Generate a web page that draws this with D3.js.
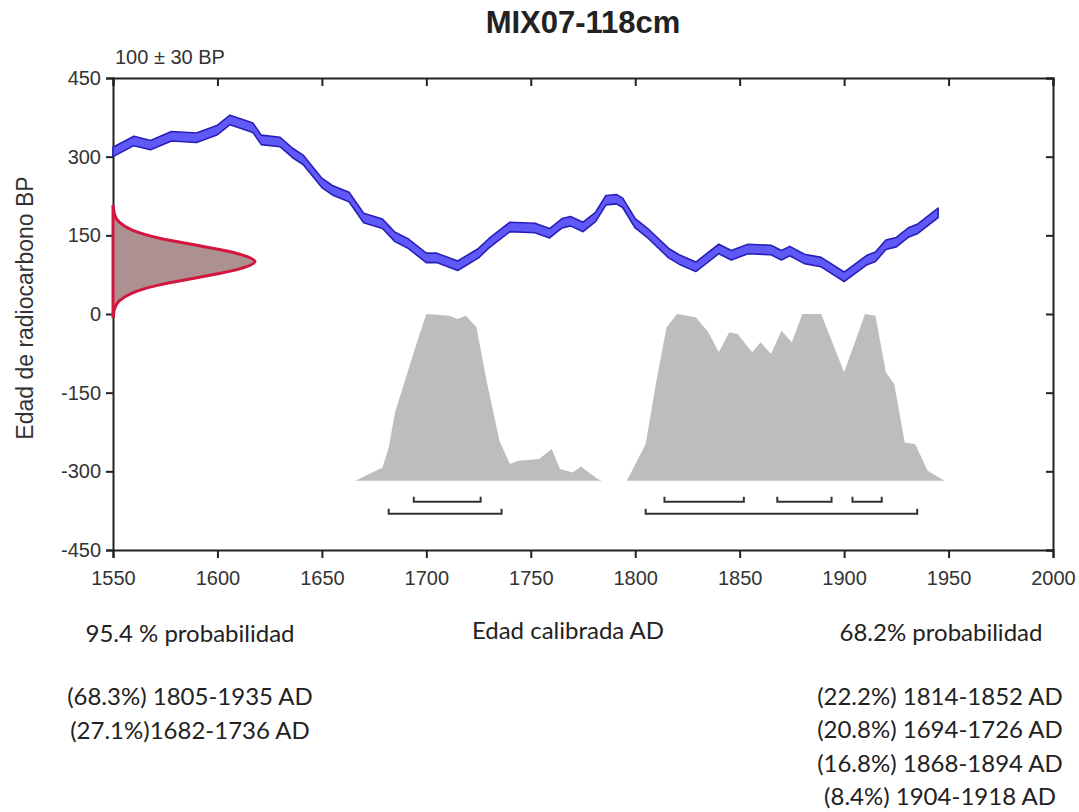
<!DOCTYPE html>
<html>
<head>
<meta charset="utf-8">
<script src="https://cdn.jsdelivr.net/npm/d3@7"></script>
<style>
  body { margin: 0; background: #fff; }
  svg { display: block; }
  .axis text { font-family: "Liberation Sans", Arial, sans-serif; font-size: 20px; fill: #333; }
  .axis path, .axis line { stroke: #222; stroke-width: 2; }
  .note { font-family: Lato, "Open Sans", sans-serif; font-size: 24px; fill: #222; }
</style>
</head>
<body>
<div id="chart"></div>
<script>
// calibration curve (IntCal)
const calYears = [1550, 1560, 1568, 1578, 1590, 1600, 1606, 1617, 1621, 1630, 1636, 1641, 1650, 1655, 1663,
  1670, 1679, 1685, 1691, 1700, 1705, 1715, 1725, 1730, 1740, 1752, 1759, 1765, 1769, 1775, 1781, 1786,
  1791, 1794, 1800, 1806, 1816, 1821, 1829, 1840, 1846, 1854, 1865, 1870, 1874, 1881, 1889, 1900, 1911,
  1915, 1920, 1925, 1931, 1935, 1945];
const calBP = [309, 330, 322, 339, 336, 351, 370, 355, 332, 328, 307, 294, 250, 236, 223,
  183, 172, 147, 135, 107, 107, 92, 116, 135, 166, 164, 154, 173, 177, 166, 185, 217,
  219, 212, 173, 154, 116, 104, 90, 124, 112, 124, 122, 112, 120, 105, 99, 71, 103,
  109, 132, 137, 156, 162, 193];
const calErr = 9;

// measured radiocarbon age 100 ± 30 BP (relative density)
const radioBP = [205, 190, 175, 160, 145, 130, 115, 100, 85, 70, 55, 40, 25, 10, -5];
const radioDensity = [0.002, 0.011, 0.044, 0.135, 0.32, 0.61, 0.88, 1, 0.88, 0.61, 0.32, 0.135, 0.044, 0.011, 0.002];

// calibrated probability (relative)
const probYears = [1666, 1679, 1682, 1685, 1690, 1696, 1700, 1711, 1715, 1719, 1724, 1729, 1735, 1740, 1744,
  1754, 1760, 1764, 1770, 1774, 1782, 1784, 1796, 1805, 1810, 1815, 1820, 1829, 1835, 1840, 1845, 1849,
  1856, 1860, 1865, 1870, 1875, 1880, 1889, 1900, 1910, 1915, 1920, 1924, 1929, 1934, 1940, 1948];
const probValues = [0, 0.08, 0.2, 0.41, 0.61, 0.85, 1, 0.99, 0.97, 0.99, 0.92, 0.59, 0.24, 0.10, 0.12,
  0.13, 0.19, 0.07, 0.05, 0.085, 0.01, 0, 0, 0.22, 0.59, 0.92, 1, 0.98, 0.89, 0.77, 0.89, 0.88,
  0.77, 0.83, 0.76, 0.90, 0.83, 1, 1, 0.65, 1, 0.99, 0.65, 0.58, 0.23, 0.22, 0.06, 0];

const ranges68 = [[1694, 1726], [1814, 1852], [1868, 1894], [1904, 1918]];
const ranges95 = [[1682, 1736], [1805, 1935]];

const xTicks = [1550, 1600, 1650, 1700, 1750, 1800, 1850, 1900, 1950, 2000];
const yTicks = [-450, -300, -150, 0, 150, 300, 450];

const title = "MIX07-118cm";
const measuredLabel = "100 \u00b1 30 BP";
const xLabel = "Edad calibrada AD";
const yLabel = "Edad de radiocarbono BP";
const head95 = "95.4 % probabilidad";
const lines95 = ["(68.3%) 1805-1935 AD", "(27.1%)1682-1736 AD"];
const head68 = "68.2% probabilidad";
const lines68 = ["(22.2%) 1814-1852 AD", "(20.8%) 1694-1726 AD", "(16.8%) 1868-1894 AD", "(8.4%) 1904-1918 AD"];

const width = 1079, height = 812;
const margin = { top: 78, right: 26, bottom: 262, left: 113 };

const svg = d3.select('#chart').append('svg')
  .attr('width', width)
  .attr('height', height);

const xScale = d3.scaleLinear().domain([1550, 2000]).range([margin.left, width - margin.right]);
const yScale = d3.scaleLinear().domain([-450, 450]).range([height - margin.bottom, margin.top]);
// calibrated probability sits on its own baseline in the lower half
const probScale = d3.scaleLinear().domain([0, 1]).range([yScale(-318), yScale(0)]);
// width of the measured-age density along the x axis
const densScale = d3.scaleLinear().domain([0, 1]).range([xScale(1550), xScale(1618)]);

// grey calibrated distribution
const probArea = d3.area()
  .x((d, i) => xScale(probYears[i]))
  .y0(probScale(0))
  .y1(d => probScale(d));
svg.append('path')
  .datum(probValues)
  .attr('fill', '#bdbdbd')
  .attr('d', probArea);

// probability range brackets
function brackets(ranges, yPos) {
  const g = svg.append('g').attr('fill', 'none').attr('stroke', '#333').attr('stroke-width', 2);
  g.selectAll('path')
    .data(ranges)
    .enter()
    .append('path')
      .attr('d', r => `M${xScale(r[0])},${yPos - 5}V${yPos}H${xScale(r[1])}V${yPos - 5}`);
}
brackets(ranges68, probScale(0) + 21);
brackets(ranges95, probScale(0) + 33);

// axes
const bottomAxis = d3.axisBottom(xScale).tickValues(xTicks).tickSize(8).tickPadding(13).tickFormat(d => String(d));
const topAxis = d3.axisTop(xScale).tickValues(xTicks).tickSize(-8).tickFormat('');
const leftAxis = d3.axisLeft(yScale).tickValues(yTicks).tickSize(7).tickPadding(5).tickFormat(d => String(d));
const rightAxis = d3.axisRight(yScale).tickValues(yTicks).tickSize(-7).tickFormat('');

svg.append('g').attr('class', 'axis')
  .attr('transform', `translate(0,${yScale(-450)})`).call(bottomAxis);
svg.append('g').attr('class', 'axis')
  .attr('transform', `translate(0,${yScale(450)})`).call(topAxis);
svg.append('g').attr('class', 'axis')
  .attr('transform', `translate(${xScale(1550)},0)`).call(leftAxis);
svg.append('g').attr('class', 'axis')
  .attr('transform', `translate(${xScale(2000)},0)`).call(rightAxis);

// calibration curve band
const calArea = d3.area()
  .x((d, i) => xScale(calYears[i]))
  .y0(d => yScale(d - calErr))
  .y1(d => yScale(d + calErr));
svg.append('path')
  .datum(calBP)
  .attr('fill', '#5f5af7')
  .attr('stroke', '#2a1fb8')
  .attr('stroke-width', 1.6)
  .attr('stroke-linejoin', 'round')
  .attr('d', calArea);

// measured radiocarbon age
const radioArea = d3.area()
  .curve(d3.curveMonotoneY)
  .y((d, i) => yScale(radioBP[i]))
  .x0(densScale(0))
  .x1(d => densScale(d));
svg.append('path')
  .datum(radioDensity)
  .attr('fill', '#ad9090')
  .attr('stroke', '#d3163f')
  .attr('stroke-width', 3)
  .attr('d', radioArea);

// texts
svg.append('text')
  .attr('x', (xScale(1550) + xScale(2000)) / 2)
  .attr('y', 33)
  .attr('text-anchor', 'middle')
  .style('font-family', '"Liberation Sans", Arial, sans-serif')
  .style('font-size', '31px')
  .style('font-weight', 'bold')
  .style('fill', '#222')
  .text(title);

svg.append('text')
  .attr('x', 115)
  .attr('y', 64)
  .style('font-family', '"Liberation Sans", Arial, sans-serif')
  .style('font-size', '20px')
  .style('fill', '#333')
  .text(measuredLabel);

svg.append('text')
  .attr('transform', `translate(33,${yScale(0) - 6}) rotate(-90)`)
  .attr('text-anchor', 'middle')
  .style('font-family', '"Liberation Sans", Arial, sans-serif')
  .style('font-size', '23px')
  .style('fill', '#333')
  .text(yLabel);

svg.append('text').attr('class', 'note')
  .attr('x', 568).attr('y', 639)
  .attr('text-anchor', 'middle')
  .text(xLabel);

svg.append('text').attr('class', 'note')
  .attr('x', 190).attr('y', 642)
  .attr('text-anchor', 'middle')
  .text(head95);

svg.selectAll('.l95')
  .data(lines95)
  .enter()
  .append('text')
    .attr('class', 'note')
    .attr('x', 190)
    .attr('y', (d, i) => 705 + i * 34)
    .attr('text-anchor', 'middle')
    .text(d => d);

svg.append('text').attr('class', 'note')
  .attr('x', 941).attr('y', 641)
  .attr('text-anchor', 'middle')
  .text(head68);

svg.selectAll('.l68')
  .data(lines68)
  .enter()
  .append('text')
    .attr('class', 'note')
    .attr('x', 940)
    .attr('y', (d, i) => 705 + i * 33.3)
    .attr('text-anchor', 'middle')
    .text(d => d);
</script>
</body>
</html>
